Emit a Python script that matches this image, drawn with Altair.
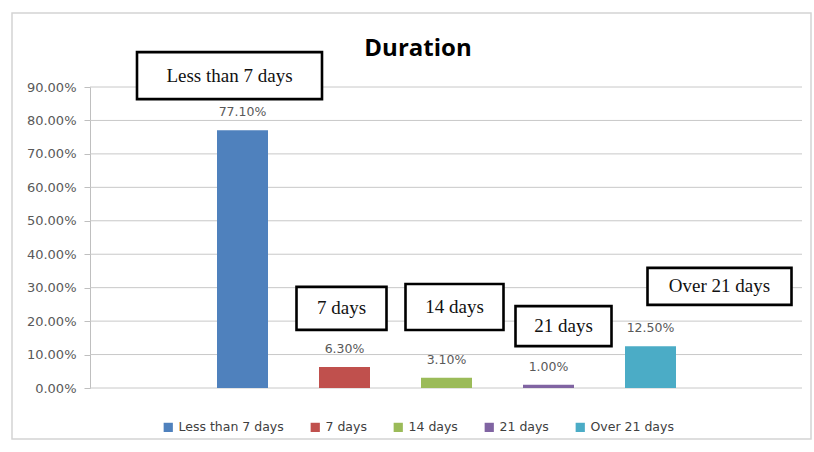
import altair as alt
import pandas as pd

# ---- data ----
categories = ["Less than 7 days", "7 days", "14 days", "21 days", "Over 21 days"]
values = [0.771, 0.063, 0.031, 0.010, 0.125]
colors = ["#4F81BD", "#C0504D", "#9BBB59", "#8064A2", "#4BACC6"]
y_ticks = [0.0, 0.1, 0.2, 0.3, 0.4, 0.5, 0.6, 0.7, 0.8, 0.9]
title_text = "Duration"

# annotation boxes (label = category), anchored at a y value near each bar
box_y = [0.934, 0.238, 0.242, 0.185, 0.304]
box_dx = [-13, -3, 8, 15, 69]
box_w = [185, 90, 98, 96, 144]
box_h = [47, 43, 46, 40, 37]

df = pd.DataFrame({"cat": categories, "val": values})
grid_df = pd.DataFrame({"val": y_ticks})

SANS = "DejaVu Sans"
xscale = alt.Scale(domain=categories, paddingInner=0.5, paddingOuter=1, range=[25, 688])
X = alt.X("cat:N", scale=xscale, sort=categories, axis=None)
Y = alt.Y("val:Q", scale=alt.Scale(domain=[0, 0.9], nice=False),
          axis=alt.Axis(values=y_ticks, format=".2%", title=None, labelOverlap=False,
                        labelFont=SANS, labelFontSize=13, labelColor="#595959",
                        labelPadding=8, tickSize=6, tickColor="#bfbfbf",
                        domainColor="#bfbfbf", grid=False))

grid = alt.Chart(grid_df).mark_rule(color="#c8c8c8", strokeWidth=1).encode(y=Y)

bars = alt.Chart(df).mark_bar().encode(
    x=X, y=Y,
    color=alt.Color("cat:N", sort=categories,
                    scale=alt.Scale(domain=categories, range=colors),
                    legend=alt.Legend(title=None, orient="none", direction="horizontal",
                                      legendX=72, legendY=334, symbolType="square",
                                      symbolSize=85, symbolStrokeWidth=0,
                                      labelFont=SANS, labelFontSize=12.5,
                                      labelColor="#404040", columnPadding=25,
                                      symbolOffset=0, labelOffset=4)),
)

labels = alt.Chart(df).mark_text(dy=-18, font=SANS, fontSize=12.5, baseline="middle",
                                 color="#595959").encode(
    x=X, y=Y,
    text=alt.Text("val:Q", format=".2%"),
)

layers = [grid, bars, labels]
for c, yv, dx, w, h in zip(categories, box_y, box_dx, box_w, box_h):
    d = pd.DataFrame({"cat": [c], "val": [yv]})
    r = h / w
    path = f"M-1,-{r:.4f}L1,-{r:.4f}L1,{r:.4f}L-1,{r:.4f}Z"
    box = alt.Chart(d).mark_point(shape=path, size=w * w, filled=True, fill="white",
                                  stroke="black", strokeWidth=2.6, opacity=1,
                                  xOffset=dx, clip=False).encode(x=X, y=Y)
    txt = alt.Chart(d).mark_text(font="Liberation Serif", fontSize=19, color="#111111",
                                 xOffset=dx, baseline="middle", clip=False).encode(
        x=X, y=Y, text="cat:N")
    layers += [box, txt]

frame = alt.Chart(df.head(1)).mark_rect(fill=None, stroke="#d4d4d4", strokeWidth=1.5,
                                        clip=False).encode(
    x=alt.value(-78), x2=alt.value(721), y=alt.value(-74), y2=alt.value(352))

title = alt.Chart(pd.DataFrame({"t": [title_text]})).mark_text(
    font="Open Sans", fontSize=24, fontWeight="bold", color="#000000",
    baseline="alphabetic", align="center", clip=False).encode(
    x=alt.value(328), y=alt.value(-31), text="t:N")

chart = alt.layer(frame, *layers, title).properties(
    width=712, height=301, background="white",
    autosize=alt.AutoSizeParams(type="none"),
    padding={"left": 90, "top": 87, "right": 12, "bottom": 64},
).configure_view(stroke="transparent", strokeWidth=0)

chart.save("out.html", embed_options={"renderer": "svg", "actions": False})
